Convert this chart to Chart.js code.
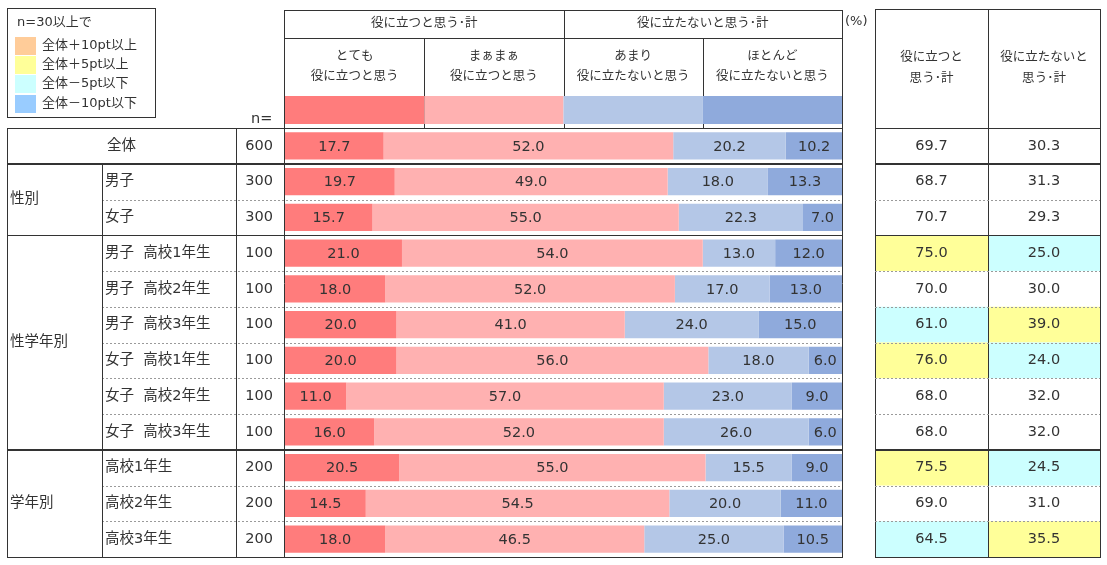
<!DOCTYPE html>
<html lang="ja">
<head>
<meta charset="utf-8">
<title>役に立つと思うか</title>
<script src="https://cdn.jsdelivr.net/npm/chart.js@4.4.1/dist/chart.umd.min.js"></script>
<style>
  html, body { margin: 0; padding: 0; background: #fff; }
  #wrap { position: relative; width: 1107px; height: 565px; }
</style>
</head>
<body>
<div id="wrap"><canvas id="chart"></canvas></div>
<script>
const rowLabels = [
  "全体", "男子", "女子",
  "男子  高校1年生", "男子  高校2年生", "男子  高校3年生",
  "女子  高校1年生", "女子  高校2年生", "女子  高校3年生",
  "高校1年生", "高校2年生", "高校3年生",
];
const groupNames = ["性別", "性学年別", "学年別"];
const groupStarts = [1, 3, 9];
const groupEnds = [2, 8, 11];
const nValues = [600, 300, 300, 100, 100, 100, 100, 100, 100, 200, 200, 200];

const seriesTop = ["とても", "まぁまぁ", "あまり", "ほとんど"];
const seriesBottom = ["役に立つと思う", "役に立つと思う", "役に立たないと思う", "役に立たないと思う"];
const headerGroups = ["役に立つと思う･計", "役に立たないと思う･計"];

const veryUseful = [17.7, 19.7, 15.7, 21.0, 18.0, 20.0, 20.0, 11.0, 16.0, 20.5, 14.5, 18.0];
const fairlyUseful = [52.0, 49.0, 55.0, 54.0, 52.0, 41.0, 56.0, 57.0, 52.0, 55.0, 54.5, 46.5];
const notVeryUseful = [20.2, 18.0, 22.3, 13.0, 17.0, 24.0, 18.0, 23.0, 26.0, 15.5, 20.0, 25.0];
const notUsefulAtAll = [10.2, 13.3, 7.0, 12.0, 13.0, 15.0, 6.0, 9.0, 6.0, 9.0, 11.0, 10.5];

const usefulTotal = [69.7, 68.7, 70.7, 75.0, 70.0, 61.0, 76.0, 68.0, 68.0, 75.5, 69.0, 64.5];
const notUsefulTotal = [30.3, 31.3, 29.3, 25.0, 30.0, 39.0, 24.0, 32.0, 32.0, 24.5, 31.0, 35.5];

const legendTitle = "n=30以上で";
const legendLabels = ["全体＋10pt以上", "全体＋5pt以上", "全体－5pt以下", "全体－10pt以下"];

const barColors = ["#FF7C7C", "#FFB1B1", "#B4C7E7", "#8FAADC"];
const markColors = ["#FFCC99", "#FFFF99", "#CCFFFF", "#99CCFF"];

const INK = "#333333";
const DASH = "#9a9a9a";
const NUM_FONT = '14.5px "DejaVu Sans", "Noto Sans CJK JP", sans-serif';
const JP_FONT = '14.5px "DejaVu Sans", "Noto Sans CJK JP", sans-serif';
const HEAD_FONT = '12.5px "DejaVu Sans", "Noto Sans CJK JP", sans-serif';
const SMALL_FONT = '13px "DejaVu Sans", "Noto Sans CJK JP", sans-serif';

// left table / right table columns
const L = { left: 7, group: 102, n: 236, nRight: 273 };
const R = { left: 875, mid: 988, right: 1100, top: 9 };
const HEAD = { top: 10, mid: 38, swTop: 96, swBottom: 124 };

const markFor = function (value, base) {
  const d = value - base;
  if (d >= 10) return markColors[0];
  if (d >= 5) return markColors[1];
  if (d <= -10) return markColors[3];
  if (d <= -5) return markColors[2];
  return null;
};

const hline = function (ctx, x1, x2, y, width, color, dash) {
  ctx.save();
  ctx.beginPath();
  ctx.lineWidth = width;
  ctx.strokeStyle = color;
  ctx.setLineDash(dash || []);
  const yy = width % 2 ? Math.round(y) + 0.5 : Math.round(y);
  ctx.moveTo(x1, yy);
  ctx.lineTo(x2, yy);
  ctx.stroke();
  ctx.restore();
};

const vline = function (ctx, x, y1, y2) {
  ctx.save();
  ctx.beginPath();
  ctx.lineWidth = 1;
  ctx.strokeStyle = INK;
  const xx = Math.round(x) + 0.5;
  ctx.moveTo(xx, y1);
  ctx.lineTo(xx, y2);
  ctx.stroke();
  ctx.restore();
};

const text = function (ctx, str, x, y, align, font) {
  ctx.save();
  ctx.font = font;
  ctx.fillStyle = INK;
  ctx.textAlign = align;
  ctx.textBaseline = "middle";
  ctx.fillText(str, x, y);
  ctx.restore();
};

const rowsOf = function (chart) {
  const y = chart.scales.y;
  const h = (y.bottom - y.top) / rowLabels.length;
  return {
    h: h,
    top: (i) => y.getPixelForValue(i) - h / 2,
    mid: (i) => y.getPixelForValue(i),
  };
};

const tablePlugin = {
  id: "table",
  beforeDatasetsDraw(chart) {
    const ctx = chart.ctx;
    const rows = rowsOf(chart);

    // highlighted cells in the right table
    rowLabels.forEach((_, i) => {
      if (i === 0) return;
      const a = markFor(usefulTotal[i], usefulTotal[0]);
      const b = markFor(notUsefulTotal[i], notUsefulTotal[0]);
      if (a) {
        ctx.fillStyle = a;
        ctx.fillRect(R.left, rows.top(i), R.mid - R.left, rows.h);
      }
      if (b) {
        ctx.fillStyle = b;
        ctx.fillRect(R.mid, rows.top(i), R.right - R.mid, rows.h);
      }
    });

    // legend swatches
    const swY = [37, 56, 75, 95];
    markColors.forEach((c, k) => {
      ctx.fillStyle = c;
      ctx.fillRect(15, swY[k], 21, 18);
    });
  },
  afterDatasetsDraw(chart) {
    const ctx = chart.ctx;
    const area = chart.chartArea;
    const rows = rowsOf(chart);
    const q = (area.right - area.left) / 4;
    const n = rowLabels.length;
    const bottom = rows.top(n - 1) + rows.h;

    // legend
    ctx.save();
    ctx.strokeStyle = INK;
    ctx.lineWidth = 1;
    ctx.strokeRect(7.5, 8.5, 148, 109);
    ctx.restore();
    text(ctx, legendTitle, 17, 23, "left", SMALL_FONT);
    [46, 65, 84, 104].forEach((y, k) => text(ctx, legendLabels[k], 42, y, "left", SMALL_FONT));

    // header of the bar part
    hline(ctx, area.left, area.right + 1, HEAD.top, 1, INK);
    hline(ctx, area.left, area.right + 1, HEAD.mid, 1, INK);
    vline(ctx, area.left - 1, HEAD.top, bottom);
    vline(ctx, area.right, HEAD.top, bottom);
    vline(ctx, area.left + q * 2, HEAD.top, area.top);
    vline(ctx, area.left + q, HEAD.mid, area.top);
    vline(ctx, area.left + q * 3, HEAD.mid, area.top);
    // header colour swatches, drawn over the column dividers
    barColors.forEach((c, k) => {
      ctx.fillStyle = c;
      ctx.fillRect(area.left + q * k, HEAD.swTop, q, HEAD.swBottom - HEAD.swTop);
    });
    headerGroups.forEach((s, k) => text(ctx, s, area.left + q * (2 * k + 1), 24, "center", HEAD_FONT));
    seriesTop.forEach((s, k) => {
      const cx = area.left + q * (k + 0.5);
      text(ctx, s, cx, 57, "center", HEAD_FONT);
      text(ctx, seriesBottom[k], cx, 77, "center", HEAD_FONT);
    });
    text(ctx, "(%)", 845, 22, "left", SMALL_FONT);
    text(ctx, "n=", 251, 119, "left", JP_FONT);

    // right table header
    hline(ctx, R.left, R.right + 1, R.top, 1, INK);
    vline(ctx, R.left, R.top, bottom);
    vline(ctx, R.mid, R.top, bottom);
    vline(ctx, R.right, R.top, bottom);
    const rcA = (R.left + R.mid) / 2;
    const rcB = (R.mid + R.right) / 2;
    text(ctx, "役に立つと", rcA, 58, "center", HEAD_FONT);
    text(ctx, "思う･計", rcA, 79, "center", HEAD_FONT);
    text(ctx, "役に立たないと", rcB, 58, "center", HEAD_FONT);
    text(ctx, "思う･計", rcB, 79, "center", HEAD_FONT);

    // row separators
    for (let i = 0; i <= n; i++) {
      const y = i < n ? rows.top(i) : bottom;
      const groupEdge = i === 0 || i === n || i === 1 || groupStarts.includes(i);
      if (groupEdge) {
        const w = i === 1 || i === 9 ? 2 : 1;
        hline(ctx, L.left, area.right + 1, y, w, INK);
        hline(ctx, R.left, R.right + 1, y, w, INK);
      } else {
        hline(ctx, L.group, area.right, y, 1, DASH, [2, 2]);
        hline(ctx, R.left, R.right, y, 1, DASH, [2, 2]);
      }
    }

    // left table columns
    vline(ctx, L.left, area.top, bottom);
    vline(ctx, L.group, rows.top(1), bottom);
    vline(ctx, L.n, area.top, bottom);

    // left table texts
    text(ctx, rowLabels[0], (L.left + L.n) / 2, rows.mid(0), "center", JP_FONT);
    groupNames.forEach((g, k) => {
      const y = (rows.top(groupStarts[k]) + rows.top(groupEnds[k]) + rows.h) / 2;
      text(ctx, g, L.left + 3, y, "left", JP_FONT);
    });
    rowLabels.forEach((s, i) => {
      if (i > 0) text(ctx, s, L.group + 3, rows.mid(i), "left", JP_FONT);
      text(ctx, String(nValues[i]), L.nRight, rows.mid(i), "right", NUM_FONT);
      text(ctx, usefulTotal[i].toFixed(1), rcA, rows.mid(i), "center", NUM_FONT);
      text(ctx, notUsefulTotal[i].toFixed(1), rcB, rows.mid(i), "center", NUM_FONT);
    });

    // bar values
    chart.data.datasets.forEach((ds, d) => {
      chart.getDatasetMeta(d).data.forEach((el, i) => {
        text(ctx, ds.data[i].toFixed(1), (el.x + el.base) / 2, el.y + 1, "center", NUM_FONT);
      });
    });
  },
};

const seriesData = [veryUseful, fairlyUseful, notVeryUseful, notUsefulAtAll];

new Chart(document.getElementById("chart"), {
  type: "bar",
  data: {
    labels: rowLabels,
    datasets: seriesData.map((values, k) => ({
      label: seriesTop[k] + seriesBottom[k],
      data: values,
      backgroundColor: barColors[k],
      borderWidth: 0,
      categoryPercentage: 1,
      barPercentage: 0.76,
    })),
  },
  options: {
    indexAxis: "y",
    responsive: true,
    maintainAspectRatio: false,
    animation: false,
    events: [],
    layout: { padding: { left: 285, right: 265, top: 128, bottom: 8 } },
    plugins: { legend: { display: false }, tooltip: { enabled: false } },
    scales: {
      x: { stacked: true, min: 0, max: 100, display: false },
      y: { stacked: true, display: false },
    },
  },
  plugins: [tablePlugin],
});
</script>
</body>
</html>
